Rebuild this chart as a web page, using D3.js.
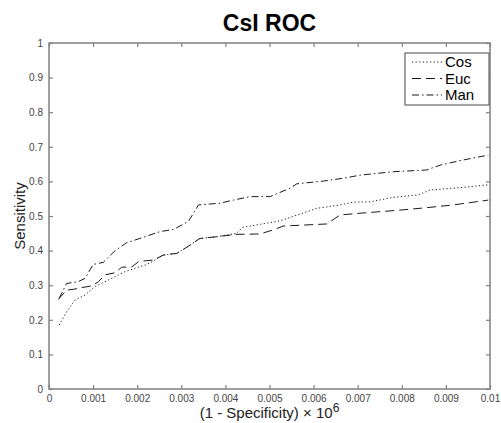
<!DOCTYPE html>
<html>
<head>
<meta charset="utf-8">
<script src="https://cdn.jsdelivr.net/npm/d3@7"></script>
<style>
  body { margin: 0; background: #fff; }
  svg { display: block; font-family: "Liberation Sans", Arial, sans-serif; }
</style>
</head>
<body>
<svg id="mainSvg"></svg>
<script>
// values: [1 - specificity, sensitivity]
const cosPts = [
    [0.00023, 0.185], [0.0004, 0.223], [0.00059, 0.257], [0.00082, 0.272], [0.00104, 0.296],
    [0.00127, 0.31], [0.0015, 0.325], [0.00172, 0.339], [0.00195, 0.349], [0.00218, 0.358],
    [0.00237, 0.37], [0.00259, 0.387], [0.0029, 0.392], [0.0032, 0.416], [0.00342, 0.435],
    [0.0038, 0.44], [0.00426, 0.45], [0.00438, 0.467], [0.00524, 0.486], [0.00584, 0.512],
    [0.00607, 0.522], [0.0066, 0.532], [0.0069, 0.54], [0.00728, 0.541], [0.00781, 0.554],
    [0.00837, 0.561], [0.00864, 0.575], [0.00932, 0.582], [0.00996, 0.59]
];
const eucPts = [
    [0.00021, 0.259], [0.0004, 0.286], [0.00055, 0.288], [0.00074, 0.293], [0.00097, 0.298],
    [0.00112, 0.31], [0.00127, 0.33], [0.0015, 0.336], [0.00165, 0.352], [0.00188, 0.353],
    [0.00203, 0.368], [0.00222, 0.371], [0.00237, 0.373], [0.00259, 0.387], [0.0029, 0.392],
    [0.0032, 0.416], [0.00342, 0.435], [0.0038, 0.44], [0.00426, 0.447], [0.00478, 0.448],
    [0.00509, 0.46], [0.00531, 0.471], [0.0063, 0.477], [0.0066, 0.503], [0.00705, 0.508],
    [0.00796, 0.517], [0.00856, 0.524], [0.00917, 0.532], [0.00996, 0.546]
];
const manPts = [
    [0.00023, 0.262], [0.0004, 0.305], [0.00066, 0.31], [0.00082, 0.32], [0.001, 0.36],
    [0.00123, 0.366], [0.0015, 0.40], [0.00176, 0.423], [0.00206, 0.435], [0.00252, 0.455],
    [0.00282, 0.461], [0.00316, 0.484], [0.00339, 0.532], [0.00388, 0.537], [0.00418, 0.546],
    [0.00456, 0.556], [0.00501, 0.556], [0.00546, 0.58], [0.00562, 0.593], [0.00622, 0.601],
    [0.00667, 0.609], [0.00705, 0.618], [0.00781, 0.628], [0.00856, 0.633], [0.00887, 0.647],
    [0.00932, 0.66], [0.00996, 0.676]
];
const seriesNames = ['Cos', 'Euc', 'Man'];
const xTicks = d3.range(0, 11).map(i => i / 1000);
const yTicks = d3.range(0, 11).map(i => i / 10);

const W = 501, H = 423;
const mgn = { l: 49, r: 11, t: 43, b: 34 };
const innerW = W - mgn.l - mgn.r;
const innerH = H - mgn.t - mgn.b;

const series = [
    { name: seriesNames[0], pts: cosPts, dash: '1.2,2.4' },
    { name: seriesNames[1], pts: eucPts, dash: '9,5' },
    { name: seriesNames[2], pts: manPts, dash: '7,3,1.5,3' },
];

const svg = d3.select('#mainSvg').attr('width', W).attr('height', H);
const g = svg.append('g').attr('transform', `translate(${mgn.l},${mgn.t})`);

const x = d3.scaleLinear().domain([0, 0.01]).range([0, innerW]);
const y = d3.scaleLinear().domain([0, 1]).range([innerH, 0]);

const fmt = d => d === 0 ? '0' : String(+d.toFixed(3));
const axisColor = '#808080';

function styleAxis(sel) {
    sel.selectAll('.domain').remove();
    sel.selectAll('line').attr('stroke', axisColor).attr('stroke-width', 1.2);
    sel.selectAll('text').attr('fill', '#444').style('font-size', '10px');
}

g.append('g').attr('transform', `translate(0,${innerH})`)
    .call(d3.axisBottom(x).tickValues(xTicks).tickFormat(fmt).tickSizeInner(-4).tickSizeOuter(0).tickPadding(6))
    .call(styleAxis);
g.append('g')
    .call(d3.axisTop(x).tickValues(xTicks).tickFormat('').tickSizeInner(-4).tickSizeOuter(0))
    .call(styleAxis);
g.append('g')
    .call(d3.axisLeft(y).tickValues(yTicks).tickFormat(fmt).tickSizeInner(-4).tickSizeOuter(0).tickPadding(6))
    .call(styleAxis);
g.append('g').attr('transform', `translate(${innerW},0)`)
    .call(d3.axisRight(y).tickValues(yTicks).tickFormat('').tickSizeInner(-4).tickSizeOuter(0))
    .call(styleAxis);

// frame
g.append('rect')
    .attr('width', innerW).attr('height', innerH)
    .attr('fill', 'none').attr('stroke', axisColor).attr('stroke-width', 1.5);

// curves
const line = d3.line().x(d => x(d[0])).y(d => y(d[1]));
g.selectAll('path.curve')
    .data(series)
    .join('path')
    .attr('class', 'curve')
    .attr('d', d => line(d.pts))
    .attr('fill', 'none')
    .attr('stroke', '#1a1a1a')
    .attr('stroke-width', 1)
    .attr('stroke-dasharray', d => d.dash);

// legend
const leg = svg.append('g').attr('transform', 'translate(405,53)');
leg.append('rect')
    .attr('width', 84).attr('height', 52)
    .attr('fill', '#fff').attr('stroke', '#666').attr('stroke-width', 1.2);
const items = leg.selectAll('g.item')
    .data(series)
    .join('g')
    .attr('class', 'item')
    .attr('transform', (d, i) => `translate(0,${9 + i * 16.5})`);
items.append('line')
    .attr('x1', 7).attr('x2', 37)
    .attr('stroke', '#1a1a1a').attr('stroke-width', 1)
    .attr('stroke-dasharray', d => d.dash);
items.append('text')
    .attr('x', 40).attr('dy', '0.36em')
    .style('font-size', '15px')
    .text(d => d.name);

// title and labels
svg.append('text')
    .attr('x', mgn.l + innerW / 2).attr('y', 31)
    .attr('text-anchor', 'middle')
    .style('font-size', '23px').style('font-weight', 'bold')
    .text('CsI ROC');

svg.append('text')
    .attr('transform', `translate(25,${mgn.t + innerH / 2}) rotate(-90)`)
    .attr('text-anchor', 'middle')
    .attr('fill', '#222')
    .style('font-size', '15px')
    .text('Sensitivity');

const xl = svg.append('text')
    .attr('x', mgn.l + innerW / 2).attr('y', 418)
    .attr('text-anchor', 'middle')
    .attr('fill', '#222')
    .style('font-size', '15px');
xl.append('tspan').text('(1 - Specificity) \u00d7 10');
xl.append('tspan').attr('dy', '-6').style('font-size', '12px').text('6');
</script>
</body>
</html>
